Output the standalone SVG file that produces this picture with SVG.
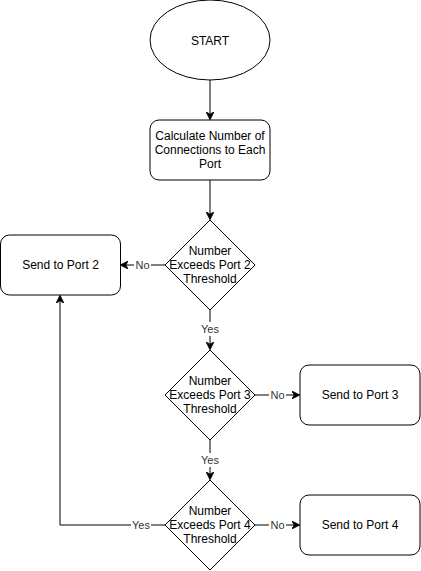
<svg xmlns="http://www.w3.org/2000/svg" width="421" height="571" viewBox="0 0 421 571">
<style>
.shape{fill:#fff;stroke:#000;stroke-width:1}
.t{font-family:"Liberation Sans",Arial,sans-serif;font-size:12px;fill:#000;text-anchor:middle;dominant-baseline:central}
.lbl{font-family:"Liberation Sans",Arial,sans-serif;font-size:11px;fill:#333;text-anchor:middle;dominant-baseline:central}
.edge{fill:none;stroke:#000;stroke-width:1}
</style>
<defs>
<marker id="arr" viewBox="0 0 10 10" refX="9" refY="5" markerWidth="8" markerHeight="8" markerUnits="userSpaceOnUse" orient="auto">
<path d="M0,0 L10,5 L0,10 L3,5 Z" fill="#000" stroke="#000" stroke-width="1"/>
</marker>
</defs>
<rect width="421" height="571" fill="#fff"/>
<g id="connectors">
<path class="edge" d="M210,80 V119" marker-end="url(#arr)"/>
<path class="edge" d="M210,180 V219" marker-end="url(#arr)"/>
<path class="edge" d="M165,265 H121" marker-end="url(#arr)"/>
<path class="edge" d="M210,310 V349" marker-end="url(#arr)"/>
<path class="edge" d="M255,395 H299" marker-end="url(#arr)"/>
<path class="edge" d="M210,440 V479" marker-end="url(#arr)"/>
<path class="edge" d="M255,525 H299" marker-end="url(#arr)"/>
<path class="edge" d="M165,525 H60 V296" marker-end="url(#arr)"/>
<rect x="134" y="258" width="17" height="14" fill="#fff"/>
<text class="lbl" x="142.5" y="265">No</text>
<rect x="200" y="322" width="20" height="14" fill="#fff"/>
<text class="lbl" x="210" y="329">Yes</text>
<rect x="269" y="388" width="17" height="14" fill="#fff"/>
<text class="lbl" x="277.5" y="395">No</text>
<rect x="200" y="453" width="20" height="14" fill="#fff"/>
<text class="lbl" x="210" y="460">Yes</text>
<rect x="269" y="518" width="17" height="14" fill="#fff"/>
<text class="lbl" x="277.5" y="525">No</text>
<rect x="131" y="518" width="20" height="14" fill="#fff"/>
<text class="lbl" x="141" y="525">Yes</text>
</g>
<g id="start">
<ellipse class="shape" cx="210" cy="40" rx="60" ry="40"/>
<text class="t" x="210" y="41">START</text>
</g>
<g id="calc">
<rect class="shape" x="150" y="120" width="120" height="60" rx="9"/>
<text class="t" x="210" y="136">Calculate Number of</text>
<text class="t" x="210" y="150">Connections to Each</text>
<text class="t" x="210" y="164">Port</text>
</g>
<g id="d2">
<path class="shape" d="M210,220 L255,265 L210,310 L165,265 Z"/>
<text class="t" x="210" y="251">Number</text>
<text class="t" x="210" y="265">Exceeds Port 2</text>
<text class="t" x="210" y="279">Threshold</text>
</g>
<g id="port2">
<rect class="shape" x="0.5" y="235" width="120" height="60" rx="9"/>
<text class="t" x="60.5" y="265">Send to Port 2</text>
</g>
<g id="d3">
<path class="shape" d="M210,350 L255,395 L210,440 L165,395 Z"/>
<text class="t" x="210" y="381">Number</text>
<text class="t" x="210" y="395">Exceeds Port 3</text>
<text class="t" x="210" y="409">Threshold</text>
</g>
<g id="port3">
<rect class="shape" x="300" y="365" width="120" height="60" rx="9"/>
<text class="t" x="360" y="395">Send to Port 3</text>
</g>
<g id="d4">
<path class="shape" d="M210,480 L255,525 L210,570 L165,525 Z"/>
<text class="t" x="210" y="511">Number</text>
<text class="t" x="210" y="525">Exceeds Port 4</text>
<text class="t" x="210" y="539">Threshold</text>
</g>
<g id="port4">
<rect class="shape" x="300" y="495" width="120" height="60" rx="9"/>
<text class="t" x="360" y="525">Send to Port 4</text>
</g>
</svg>
